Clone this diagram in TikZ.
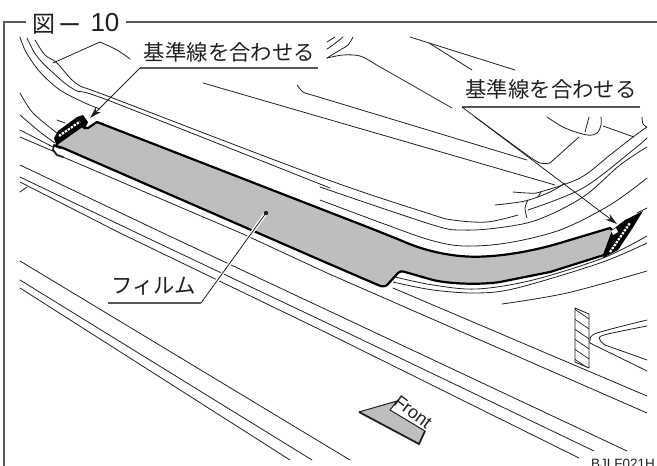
\documentclass[tikz,border=0pt]{standalone}
\usepackage{fontspec}
\setmainfont{Liberation Sans}
\newfontfamily\cjk{Noto Sans CJK JP}
\usetikzlibrary{arrows.meta}
\definecolor{ink}{HTML}{231F20}
\definecolor{filmgray}{HTML}{BCBEC0}
\definecolor{framegray}{HTML}{58595B}
\tikzset{
  ln/.style={draw=ink,line width=0.8pt,line cap=round,line join=round},
  sm/.style={smooth,tension=0.55},
  leader/.style={draw=ink,line width=0.8pt},
  under/.style={draw=framegray,line width=1.1pt},
  frameln/.style={draw=framegray,line width=1.5pt},
  jp/.style={font=\cjk\fontsize{21.4}{22}\selectfont,text=ink,inner sep=0pt,anchor=center},
  headarrow/.style={-{Stealth[length=12pt,width=7pt]}},
}
\begin{document}
\begin{tikzpicture}[x=1pt,y=-1pt]
\useasboundingbox (0,0) rectangle (657,466);
% frame
\draw[frameln] (26,22) -- (4,22) -- (4,466);
\draw[frameln] (126,22) -- (657,22);
\node[jp,font=\cjk\fontsize{23}{24}\selectfont] (fig) at (43.5,24) {図};
\node[jp,font=\cjk\fontsize{23}{24}\selectfont] (dash) at (70,29) {ー};
\node[inner sep=0pt,font=\fontsize{26}{27}\selectfont,text=ink] (num) at (105,23) {10};
% top left arcs
\draw[ln] plot[sm] coordinates {(20,37) (26,52) (40,72) (60,90) (85,103) (100,109)};
\draw[ln] plot[sm] coordinates {(27,38) (36,55) (50,70) (75,90) (110,101) (330,188)};
\draw[ln] plot[sm] coordinates {(35,40) (45,55) (57,63) (77,84) (110,97) (320,177) (427,213) (453,220) (487,222) (518,215)};
\draw[ln] (53,63) -- (100,42);
\draw[ln] plot[sm] coordinates {(100,42) (117,50) (130,59)};
% left second group
\draw[ln] plot[sm] coordinates {(20,93) (33,113) (57,133)};
\draw[ln] plot[sm] coordinates {(20,115) (40,132) (55,143)};
\draw[ln] (20,130) -- (53,147);
\draw[ln] (20,137) -- (55,152);
\draw[ln] (57,120) -- (65,123);
% upper straight lines
\draw[ln] (203,83) -- (555,185);
\draw[ln] plot[sm] coordinates {(297,85) (303,92) (312,95)};
\draw[ln] (312,95) -- (527,160);
\draw[ln] plot[sm] coordinates {(327,42) (335,37)};
\draw[ln] plot[sm] coordinates {(327,49) (333,45) (343,37)};
\draw[ln] plot[sm] coordinates {(327,58) (340,50) (348,45) (353,37)};
\draw[ln] plot[sm] coordinates {(327,58) (343,55) (360,56) (375,64)};
\draw[ln] (375,64) -- (452,108);
\draw[ln] (410,37) -- (515,70);
\draw[ln] (429,43) -- (472,70);
% upper right details
\draw[ln] plot[sm] coordinates {(547,117) (565,128) (587,135) (597,133) (601,125) (601,117)};
\draw[ln] (589,117) -- (585,132);
\draw[ln] (603,126) -- (634,137);
\draw[ln] plot[sm] coordinates {(642,117) (643,124) (647,127)};
\draw[ln] (475,117) -- (527,155);
\draw[ln] plot[sm] coordinates {(527,155) (540,163) (550,163)};
\draw[ln] (550,163) -- (579,137);
% right swept lines
\draw[ln] plot[sm] coordinates {(513,192) (528,193) (540,192) (580,178) (610,155) (633,137) (647,127)};
\draw[ln] plot[sm] coordinates {(495,205) (525,201) (550,192) (565,183)};
\draw[ln] plot[sm] coordinates {(528,210) (583,188) (633,150) (647,138)};
\draw[ln] plot[sm] coordinates {(320,187) (433,225) (463,230) (497,228) (537,220) (583,197) (620,165) (647,147)};
\draw[ln] plot[sm] coordinates {(320,200) (387,225) (430,240) (463,246) (507,243) (560,230) (610,205) (647,178)};
\draw[ln] plot[sm] coordinates {(528,200) (525,208) (527,218)};
\draw[ln] (541,192) -- (538,197);
\draw[ln] (637,213) -- (647,208);
% lower right of film
\draw[ln] plot[sm] coordinates {(395,277) (433,285) (477,289) (533,280) (603,258) (647,236)};
\draw[ln] plot[sm] coordinates {(393,282) (433,290) (477,293) (517,288) (600,263) (647,243)};
\draw[ln] plot[sm] coordinates {(502,304) (567,293) (647,271)};
% long lower lines
\draw[ln] (63,157) -- (243,234);
\draw[ln] (243,234) -- (327,273) -- (647,413);
\draw[ln] (393,288) -- (647,396);
\draw[ln] (20,165) -- (163,233) -- (327,310) -- (627,451);
\draw[ln] (20,177) -- (137,233) -- (327,323) -- (594,451);
\draw[ln] (20,182) -- (120,233) -- (327,333) -- (579,458);
\draw[ln] (20,192) -- (27,187);
\draw[ln] (20,261) -- (350,460);
\draw[ln] (20,280) -- (312,460);
\draw[ln] (20,288) -- (290,460);
% right small shape
\draw[ln] plot[sm] coordinates {(647,320) (597,333) (590,340) (590,343)};
\draw[ln] (590,343) -- (647,371);
\draw[ln] plot[sm] coordinates {(647,326) (604,335) (600,340) (605,345)};
\draw[ln] (605,345) -- (647,360);
% hatched box
\begin{scope}
\clip (575,308) -- (589,314) -- (589,368) -- (575,362) -- cycle;
\fill[white] (570,300) rectangle (595,375);
\foreach \yy in {296,306,...,376} \draw[ln,line width=0.7pt] (570,\yy) -- (595,\yy+17);
\end{scope}
\draw[ln] (575,308) -- (589,314) -- (589,368) -- (575,362) -- cycle;
% film
\fill[black] (54,138) -- (58,131) -- (77,117) -- (83,115) -- (88,122) -- (85,129) -- (80,129) -- (60,143) -- (57,147) -- cycle;
\draw[white,line width=2.2pt,dash pattern=on 2.4pt off 1.2pt] (59,136) -- (80,121.5);
\draw[ink,line width=1.8pt,line join=round,line cap=round] (60,148) -- (54,145) -- (53,150) -- (57,155) -- (63,157);
\fill[black] (603,258) -- (618,250) -- (632,229) -- (643,211) -- (625,220) -- (612,230) -- cycle;
\draw[white,line width=2.2pt,dash pattern=on 2.4pt off 1.2pt] (610,252) -- (630,223);
\draw[fill=filmgray,draw=black,line width=2.2pt,line join=round]
  (97,122) -- (88,128) .. controls (85,129) and (84,128) .. (82,126) -- (58,143) -- (56,146) -- (63,148)
  -- (327,263) -- (378,285) .. controls (382,287) and (386,287) .. (388,284) -- (398,273)
  .. controls (400,271) and (401,271) .. (405,272) -- (433,280) .. controls (450,284) and (480,285) .. (500,282)
  -- (550,272) -- (604,255) -- (613,231) -- (610,228)
  -- (560,243) .. controls (530,252) and (490,259) .. (460,256) .. controls (440,254) and (420,249) .. (400,240)
  -- (370,228) -- cycle;
% white mark at the right end of the film
\fill[white] (611,231) -- (616,228) -- (618,232) -- (613,235) -- cycle;
% leaders
\node[jp] (lab1) at (229.5,52) {基準線を合わせる};
\coordinate (u1a) at (318,68);
\coordinate (u1b) at (140,68);
\coordinate (t1) at (90,118);
\draw[under] (u1a) -- (u1b);
\draw[leader,headarrow] (u1b) -- (t1);
\node[jp] (lab2) at (551,89) {基準線を合わせる};
\coordinate (u2a) at (640,107);
\coordinate (u2b) at (462,107);
\coordinate (t2) at (617,224);
\draw[under] (u2a) -- (u2b);
\draw[leader,headarrow] (u2b) -- (t2);
\node[jp] (lab3) at (153.5,286) {フィルム};
\coordinate (u3a) at (108,303);
\coordinate (u3b) at (201,303);
\coordinate (t3) at (266,213);
\draw[white,line width=3.5pt] (u3b) -- (t3);
\draw[under] (u3a) -- (u3b);
\draw[leader] (u3b) -- (t3);
\fill[ink] (t3) circle (2.2pt);
% front arrow
\coordinate (fa) at (359,412);
\coordinate (fb) at (397,401);
\coordinate (fc) at (390,410);
\coordinate (fd) at (425,431);
\coordinate (fe) at (419,444);
\fill[filmgray] (fa) -- (fb) -- (fc) -- (fd) -- (fe) -- cycle;
\draw[draw=ink,line width=1pt] (fa) -- (fb) -- (fc) -- (fd);
\draw[draw=ink,line width=1.8pt,line join=miter] (fa) -- (fe) -- (fd);
\node[inner sep=0pt,rotate=-37,font=\fontsize{18}{19}\selectfont,text=ink] (front) at (413,412) {Front};
\node[inner sep=0pt,anchor=base east,font=\fontsize{13.5}{14}\selectfont,text=ink] (code) at (655,468) {BJLF021H};
\end{tikzpicture}
\end{document}
